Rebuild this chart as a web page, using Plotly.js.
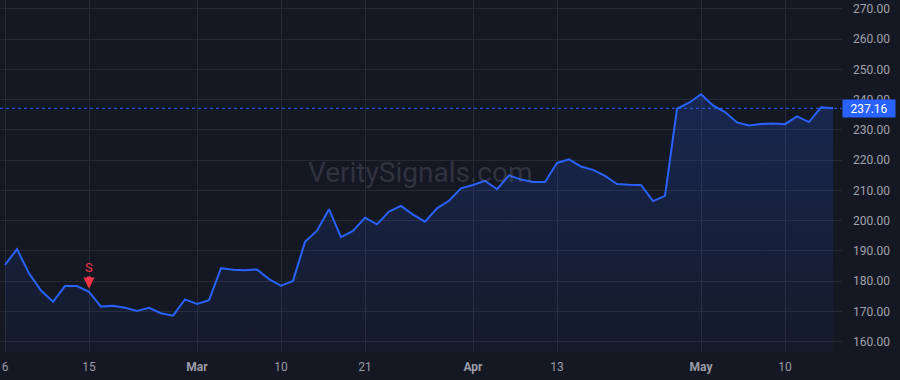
<!DOCTYPE html>
<html>
<head>
<meta charset="utf-8">
<script src="https://cdn.plot.ly/plotly-3.0.1.min.js"></script>
<style>
html,body{margin:0;padding:0;background:#141823;}
#chart{width:900px;height:380px;}
</style>
</head>
<body>
<div id="chart"></div>
<script>
// Trading days (2023)
const dates = [
'2023-02-06','2023-02-07','2023-02-08','2023-02-09','2023-02-10','2023-02-13','2023-02-14','2023-02-15','2023-02-16','2023-02-17',
'2023-02-21','2023-02-22','2023-02-23','2023-02-24','2023-02-27','2023-02-28',
'2023-03-01','2023-03-02','2023-03-03','2023-03-06','2023-03-07','2023-03-08','2023-03-09','2023-03-10','2023-03-13','2023-03-14',
'2023-03-15','2023-03-16','2023-03-17','2023-03-20','2023-03-21','2023-03-22','2023-03-23','2023-03-24','2023-03-27','2023-03-28',
'2023-03-29','2023-03-30','2023-03-31',
'2023-04-03','2023-04-04','2023-04-05','2023-04-06','2023-04-10','2023-04-11','2023-04-12','2023-04-13','2023-04-14','2023-04-17',
'2023-04-18','2023-04-19','2023-04-20','2023-04-21','2023-04-24','2023-04-25','2023-04-26','2023-04-27','2023-04-28',
'2023-05-01','2023-05-02','2023-05-03','2023-05-04','2023-05-05','2023-05-08','2023-05-09','2023-05-10','2023-05-11','2023-05-12',
'2023-05-15','2023-05-16'
];
const prices = [
185.4,190.6,182.6,176.9,173.2,178.4,178.4,176.5,171.6,171.9,
171.2,170.2,171.2,169.4,168.6,174.0,172.5,173.7,184.3,183.8,
183.6,183.9,180.7,178.5,180.1,193.0,196.7,203.8,194.6,196.6,
201.0,198.8,203.0,204.9,202.0,199.7,204.1,206.6,210.7,211.8,
213.2,210.4,215.0,213.6,212.8,212.8,219.1,220.3,217.9,216.8,
214.8,212.1,211.9,211.8,206.5,208.2,237.0,239.0,241.8,238.1,
235.9,232.5,231.5,232.0,232.1,231.9,234.5,232.6,237.5,237.16
];
const tickDates = ['2023-02-06','2023-02-15','2023-03-01','2023-03-10','2023-03-21','2023-04-03','2023-04-13','2023-05-01','2023-05-10'];
const tickLabels = ['6','15','<b>Mar</b>','10','21','<b>Apr</b>','13','<b>May</b>','10'];
const yTicks = [160,170,180,190,200,210,220,230,240,250,260,270];
const signalDate = '2023-02-15';
const signalLabel = 'S';
const lastPrice = prices[prices.length-1];
const watermark = 'VeritySignals.com';

const FONT = 'Roboto, "Liberation Sans", sans-serif';
const gridColor = '#262a35';
const lineColor = '#2962ff';

const trace = {
  x: dates, y: prices, type: 'scatter', mode: 'lines',
  line: {color: lineColor, width: 2},
  fill: 'tozeroy',
  fillgradient: {type: 'vertical', start: 156, stop: 242,
    colorscale: [[0,'rgba(41,98,255,0.03)'],[1,'rgba(41,98,255,0.21)']]},
  hoverinfo: 'skip'
};

const sigIdx = dates.indexOf(signalDate);

const layout = {
  width: 900, height: 380,
  margin: {l: 0, r: 58, t: 0, b: 28, pad: 0},
  paper_bgcolor: '#141823', plot_bgcolor: '#141823',
  font: {family: FONT, size: 12, color: '#a0a3ab'},
  showlegend: false,
  xaxis: {
    type: 'category', range: [-5/12, dates.length - 1 + 0.75],
    tickmode: 'array', tickvals: tickDates, ticktext: tickLabels,
    showgrid: true, gridcolor: gridColor, gridwidth: 1,
    zeroline: false, showline: false, ticks: '',
    ticklabelstandoff: 6,
    tickfont: {family: FONT, size: 12, color: '#9a9da6'}
  },
  yaxis: {
    side: 'right', range: [156.6, 272.96],
    tickmode: 'array', tickvals: yTicks, ticktext: yTicks.map(v => v.toFixed(2)),
    showgrid: true, gridcolor: gridColor, gridwidth: 1,
    zeroline: false, showline: false, ticks: '',
    ticklabelstandoff: 10,
    tickfont: {family: FONT, size: 12, color: '#a0a3ab'}
  },
  shapes: [{
    type: 'line', xref: 'paper', x0: 0, x1: 1, yref: 'y', y0: lastPrice, y1: lastPrice,
    line: {color: lineColor, width: 1, dash: 'dot'}
  }],
  annotations: [
    {
      xref: 'paper', yref: 'paper', x: 0.4985, y: 0.51, xanchor: 'center', yanchor: 'middle',
      text: watermark, showarrow: false,
      font: {size: 28, color: 'rgba(120,125,140,0.28)', family: FONT}
    },
    {
      xref: 'x', yref: 'y', x: sigIdx, y: 177.6,
      text: signalLabel, showarrow: true, ax: 0, ay: -21,
      arrowhead: 2, arrowsize: 0.55, arrowwidth: 4, arrowcolor: '#f23645', standoff: 0, startstandoff: 0,
      font: {family: FONT, size: 13, color: '#f23645'}
    },
    {
      xref: 'paper', yref: 'y', x: 1, y: lastPrice, xanchor: 'left', yanchor: 'middle',
      text: lastPrice.toFixed(2), showarrow: false,
      bgcolor: lineColor, borderpad: 2, width: 48, height: 13, align: 'center',
      font: {family: FONT, size: 12, color: '#ffffff'}
    }
  ]
};

Plotly.newPlot('chart', [trace], layout, {staticPlot: true, displayModeBar: false});
</script>
</body>
</html>
